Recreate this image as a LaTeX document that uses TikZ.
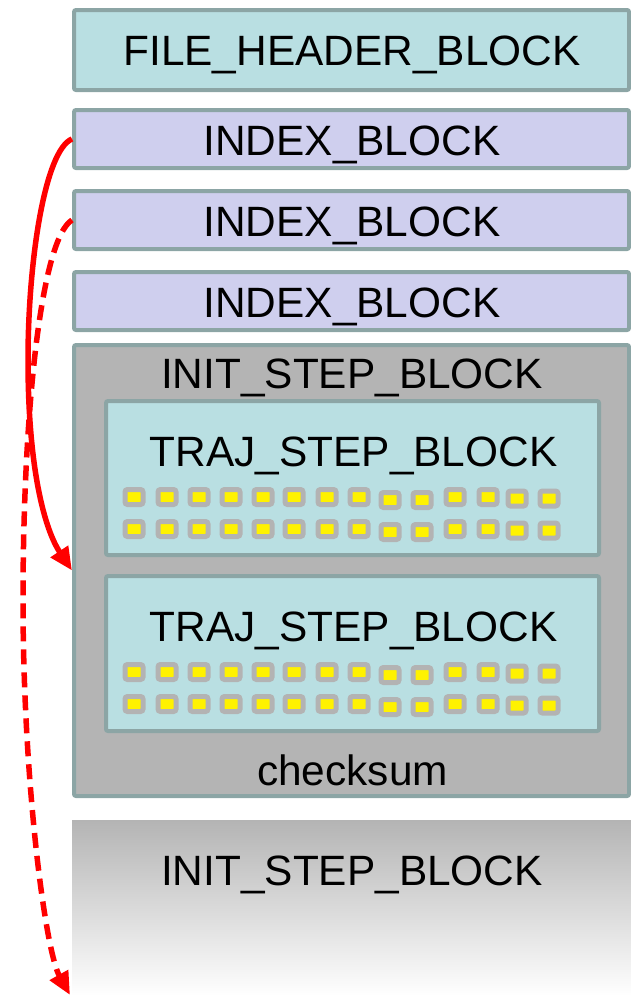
\documentclass[tikz,border=0pt]{standalone}
\usepackage{fontspec}
\setmainfont{Liberation Sans}
\usetikzlibrary{arrows.meta}

\definecolor{edgegray}{HTML}{8CA5A5}
\definecolor{tealfill}{HTML}{B9DFE2}
\definecolor{indexfill}{HTML}{CFCFEE}
\definecolor{initfill}{HTML}{B4B4B4}
\definecolor{cellgray}{HTML}{B3B3B3}
\definecolor{arrowred}{HTML}{FF0000}

\begin{document}
\begin{tikzpicture}[x=1pt,y=-1pt,
  blk/.style={draw=edgegray, line width=4pt, rounded corners=2pt, inner sep=0pt},
  wide/.style={blk, minimum width=555pt},
  lbl/.style={anchor=base, inner sep=0pt, font=\fontsize{42.4}{50}\selectfont},
  cell/.style={draw=cellgray, fill=yellow, line width=5pt, rounded corners=2.5pt,
    inner sep=0pt, minimum width=18pt, minimum height=15pt},
  link/.style={draw=arrowred, line width=5.5pt, -{Triangle[length=23pt,width=20pt]}},
  linkdash/.style={link, dash pattern=on 15pt off 8pt}]
\useasboundingbox (0,0) rectangle (631,996);

% file header and index blocks
\node[wide, fill=tealfill, minimum height=80pt] (header) at (351.5,50) {};
\node[lbl] (headertxt) at (352,65) {FILE\_HEADER\_BLOCK};
\node[wide, fill=indexfill, minimum height=58pt] (idx1) at (351.5,139) {};
\node[lbl] (idx1txt) at (352,155) {INDEX\_BLOCK};
\node[wide, fill=indexfill, minimum height=58pt] (idx2) at (351.5,220) {};
\node[lbl] (idx2txt) at (352,236) {INDEX\_BLOCK};
\node[wide, fill=indexfill, minimum height=58pt] (idx3) at (351.5,301) {};
\node[lbl] (idx3txt) at (352,317) {INDEX\_BLOCK};

% first init step block with its two trajectory step blocks
\node[wide, fill=initfill, minimum height=451pt] (init) at (351.5,570.5) {};
\node[lbl] (inittxt) at (352,388) {INIT\_STEP\_BLOCK};
\node[blk, fill=tealfill, minimum width=493pt, minimum height=154pt] (traj1) at (352.5,478) {};
\node[lbl] (traj1txt) at (353.5,466) {TRAJ\_STEP\_BLOCK};
\node[blk, fill=tealfill, minimum width=493pt, minimum height=155pt] (traj2) at (352.5,653.5) {};
\node[lbl] (traj2txt) at (353.5,641) {TRAJ\_STEP\_BLOCK};
\node[lbl] (checksum) at (352.5,785) {checksum};

% data cells inside each trajectory step block
\foreach \row/\ya in {a/497,b/529,c/672,d/704}{
  \foreach \cx/\dy [count=\i] in {134/0,167/0,199/0,231/0,263/0,294/0,327/0,
      359/0,390/3,422/3,455/0,488/0,517/1.5,549/1.5}{
    \node[cell] (cell-\row-\i) at (\cx,\ya+\dy) {};
  }
}

% next init step block, fading out
\node[inner sep=0pt, minimum width=559pt, minimum height=176pt,
  top color=initfill, bottom color=white] (init2) at (351.5,908) {};
\node[lbl] (init2txt) at (352,885) {INIT\_STEP\_BLOCK};

% index pointers
\coordinate (offpage) at (70,995);
\draw[link] (idx1.west) .. controls (45,150) and (28,260) .. (28,360)
  .. controls (28,470) and (45,530) .. (init.west);
\draw[linkdash] (idx2.west) .. controls (40,240) and (23,420) .. (23,600)
  .. controls (23,780) and (45,950) .. (offpage);
\end{tikzpicture}
\end{document}
